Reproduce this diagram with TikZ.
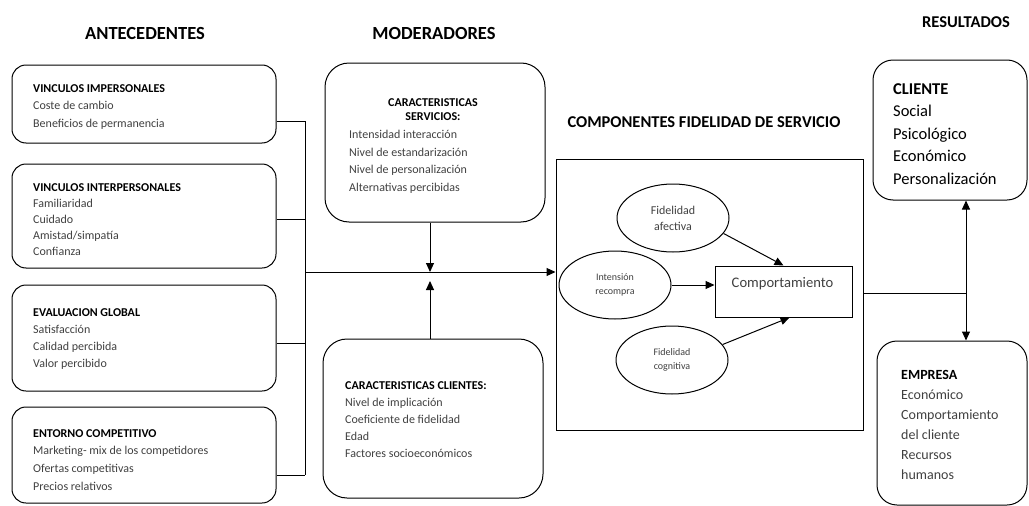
\documentclass[tikz,border=0pt]{standalone}
\usepackage{fontspec}
\setmainfont{Carlito}
\usetikzlibrary{arrows.meta,shapes.geometric}
\definecolor{itemgray}{HTML}{404040}
\tikzset{
  rbox/.style={draw, line width=1pt, rounded corners=#1, inner sep=0pt},
  rbox/.default=14pt,
  hdr/.style={font=\bfseries\fontsize{18.5}{20}\selectfont},
  hdrs/.style={font=\bfseries\fontsize{16.5}{18}\selectfont},
  lst/.style={anchor=north west, align=left, inner sep=0pt, text=itemgray},
  conn/.style={line width=1pt},
  arr/.style={line width=1pt, -{Triangle[width=8pt,length=9pt]}},
  darr/.style={line width=1pt, {Triangle[width=8pt,length=9pt]}-{Triangle[width=8pt,length=9pt]}},
  ell/.style={draw, ellipse, line width=1pt, minimum width=112pt, minimum height=68pt, inner sep=0pt, text=itemgray, align=center}
}
\begin{document}
\begin{tikzpicture}[x=1pt,y=-1pt]
\useasboundingbox (0,0) rectangle (1029,506);
% headers
\node[hdr] (hA) at (145,33) {ANTECEDENTES};
\node[hdr] (hM) at (434,33) {MODERADORES};
\node[hdrs] (hR) at (966,22) {RESULTADOS};
\node[hdrs] (hC) at (704,122) {COMPONENTES FIDELIDAD DE SERVICIO};
% antecedentes boxes
\node[rbox, minimum width=264pt, minimum height=78pt] (b1) at (144,104) {};
\node[rbox, minimum width=264pt, minimum height=104pt] (b2) at (144,216) {};
\node[rbox, minimum width=264pt, minimum height=106pt] (b3) at (144,338) {};
\node[rbox, minimum width=264pt, minimum height=96pt] (b4) at (144,455) {};
\node[lst, font=\fontsize{12}{17.5}\selectfont] (t1) at (33,84) {\textcolor{black}{\bfseries VINCULOS IMPERSONALES}\\Coste de cambio\\Beneficios de permanencia};
\node[lst, font=\fontsize{12}{16}\selectfont] (t2) at (33,183) {\textcolor{black}{\bfseries VINCULOS INTERPERSONALES}\\Familiaridad\\Cuidado\\Amistad/simpatía\\Confianza};
\node[lst, font=\fontsize{12}{17.3}\selectfont] (t3) at (33,308) {\textcolor{black}{\bfseries EVALUACION GLOBAL}\\Satisfacción\\Calidad percibida\\Valor percibido};
\node[lst, font=\fontsize{12}{17.7}\selectfont] (t4) at (33,429) {\textcolor{black}{\bfseries ENTORNO COMPETITIVO}\\Marketing- mix de los competidores\\Ofertas competitivas\\Precios relativos};
% moderadores boxes
\node[rbox=24pt, minimum width=220pt, minimum height=159pt] (sv) at (435,142.5) {};
\node[rbox=24pt, minimum width=220pt, minimum height=159pt] (cl) at (433,418.5) {};
\node[inner sep=0pt, align=center, font=\bfseries\fontsize{12}{14}\selectfont] (svt) at (433,110) {CARACTERISTICAS\\SERVICIOS:};
\node[lst, font=\fontsize{12}{17.7}\selectfont] (svl) at (349,130) {Intensidad interacción\\Nivel de estandarización\\Nivel de personalización\\Alternativas percibidas};
\node[lst, font=\fontsize{12}{17}\selectfont] (cll) at (345,381) {\textcolor{black}{\bfseries CARACTERISTICAS CLIENTES:}\\Nivel de implicación\\Coeficiente de fidelidad\\Edad\\Factores socioeconómicos};
% components
\node[draw, line width=1pt, minimum width=307pt, minimum height=271pt, inner sep=0pt] (comp) at (709.5,294.5) {};
\node[draw, line width=1pt, minimum width=137pt, minimum height=51pt, inner sep=0pt] (beh) at (783.5,291.5) {};
\node[text=itemgray, font=\fontsize{14.6}{16}\selectfont, inner sep=0pt] (beht) at (782.5,284) {Comportamiento};
\node[ell, font=\fontsize{12}{16}\selectfont] (aff) at (673,218) {Fidelidad\\afectiva};
\node[ell, font=\fontsize{10}{14}\selectfont] (rec) at (615,285) {Intensión\\recompra};
\node[ell, font=\fontsize{10}{14}\selectfont] (cog) at (672,360) {Fidelidad\\cognitiva};
% resultados
\node[rbox=20pt, minimum width=154pt, minimum height=140pt] (cli) at (950,130) {};
\node[rbox=20pt, minimum width=150pt, minimum height=164pt] (emp) at (952,423) {};
\node[lst, text=black, font=\fontsize{16.5}{22.5}\selectfont] (clit) at (893,83) {\bfseries CLIENTE\\Social\\Psicológico\\Económico\\Personalización};
\node[lst, font=\fontsize{14}{20}\selectfont] (empt) at (901,370.5) {\textcolor{black}{\bfseries EMPRESA}\\Económico\\Comportamiento\\del cliente\\Recursos\\humanos};
% connectors left
\coordinate (j1) at (305,121);
\coordinate (j2) at (305,219);
\coordinate (j3) at (305,343);
\coordinate (j4) at (305,475);
\coordinate (jm) at (305,272);
\draw[conn] (b1.east |- j1) -- (j1);
\draw[conn] (b2.east |- j2) -- (j2);
\draw[conn] (b3.east |- j3) -- (j3);
\draw[conn] (b4.east |- j4) -- (j4);
\draw[conn] (j1) -- (j4);
\draw[arr] (jm) -- (comp.west |- jm);
\coordinate (mx) at (430,272);
\coordinate (my) at (430,281);
\draw[arr] (sv.south -| mx) -- (mx);
\draw[arr] (cl.north -| my) -- (my);
% inner arrows
\draw[arr] (aff.-17) -- (beh.north);
\draw[arr] (rec.east) -- (rec.east -| beh.west);
\draw[arr] (cog.17) -- ([xshift=6pt]beh.south);
% right
\coordinate (r) at (966,293);
\draw[conn] (comp.east |- r) -- (r);
\draw[darr] (r |- cli.south) -- (r |- emp.north);
\end{tikzpicture}
\end{document}
